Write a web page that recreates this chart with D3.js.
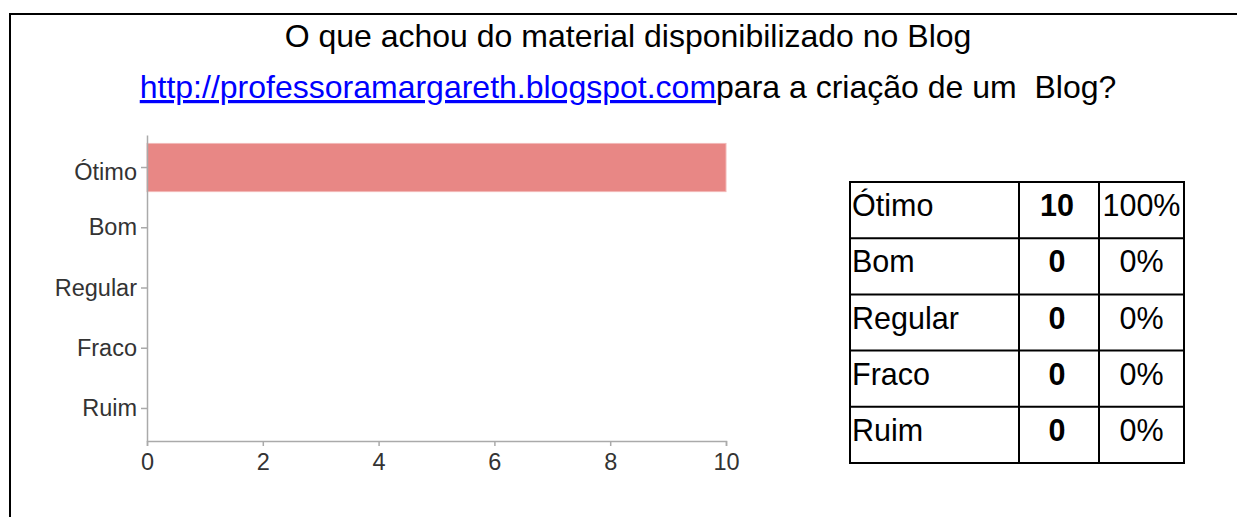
<!DOCTYPE html>
<html>
<head>
<meta charset="utf-8">
<script src="https://cdn.jsdelivr.net/npm/d3@7"></script>
<style>
  html, body { margin: 0; padding: 0; background: #fff; }
  svg { display: block; font-family: "Liberation Sans", Arial, Helvetica, sans-serif; }
</style>
</head>
<body>
<svg id="chart" width="1237" height="517"></svg>
<script>
// categories and values
var categories = ["Ótimo", "Bom", "Regular", "Fraco", "Ruim"];
var counts = [10, 0, 0, 0, 0];
var percents = ["100%", "0%", "0%", "0%", "0%"];
var xTicks = [0, 2, 4, 6, 8, 10];

var titleLine1 = "O que achou do material disponibilizado no Blog";
var titleLink = "http://professoramargareth.blogspot.com";
var titleRest = "para a criação de um  Blog?";

var svg = d3.select("#chart");

// frame: top and left edge only, the rest runs off the page
svg.append("line")
    .attr("x1", 10).attr("y1", 14).attr("x2", 1237).attr("y2", 14)
    .style("stroke", "#000").style("stroke-width", 2);
svg.append("line")
    .attr("x1", 10).attr("y1", 13).attr("x2", 10).attr("y2", 517)
    .style("stroke", "#000").style("stroke-width", 2);

// title, two lines
svg.append("text")
    .attr("x", 628).attr("y", 47)
    .attr("text-anchor", "middle")
    .style("font-size", "32px")
    .style("fill", "#000")
    .text(titleLine1);

var line2 = svg.append("text")
    .attr("x", 628).attr("y", 98)
    .attr("text-anchor", "middle")
    .style("font-size", "32px")
    .style("white-space", "pre");
line2.append("tspan")
    .style("fill", "#0000ff")
    .style("text-decoration", "underline")
    .text(titleLink);
line2.append("tspan")
    .style("fill", "#000")
    .text(titleRest);

// bar chart
var x = d3.scaleLinear().domain([0, 10]).range([147, 726]);
var y = d3.scaleBand().domain(categories).range([135, 441])
    .paddingInner(0.2).paddingOuter(0.14);

var plot = svg.append("g");

plot.selectAll("rect.bar")
    .data(categories)
    .enter().append("rect")
    .attr("class", "bar")
    .attr("x", x(0))
    .attr("y", function (d) { return y(d); })
    .attr("width", function (d, i) { return x(counts[i]) - x(0); })
    .attr("height", y.bandwidth())
    .style("fill", "#e88785")
    .style("stroke", "#f2b8b7")
    .style("stroke-width", 1);

var xAxis = plot.append("g")
    .attr("transform", "translate(0,441)")
    .call(d3.axisBottom(x).tickValues(xTicks).tickSize(5).tickPadding(7).tickSizeOuter(5));

var yAxis = plot.append("g")
    .attr("transform", "translate(147,0)")
    .call(d3.axisLeft(y).tickSize(6).tickPadding(4).tickSizeOuter(0));

[xAxis, yAxis].forEach(function (ax) {
    ax.selectAll("path.domain").style("stroke", "#aaa").style("stroke-width", 1.5);
    ax.selectAll(".tick line").style("stroke", "#aaa").style("stroke-width", 1.5);
    ax.selectAll(".tick text")
        .style("fill", "#333")
        .style("font-size", "23.5px")
        .style("font-family", "\"Liberation Sans\", Arial, sans-serif");
});

// labels with an accented capital sit a little lower, their box is taller
yAxis.selectAll(".tick text")
    .attr("dy", function (d) { return /^[ÁÉÍÓÚÂÊÔ]/.test(d) ? "0.55em" : "0.32em"; });

// table on the right
var rows = d3.scaleBand().domain(categories).range([182, 463]);
var cols = [850, 1019, 1099, 1184];

var table = svg.append("g");

rows.domain().concat([null]).forEach(function (d) {
    var yy = d === null ? rows.range()[1] : rows(d);
    table.append("line")
        .attr("x1", cols[0] - 1).attr("x2", cols[3] + 1)
        .attr("y1", yy).attr("y2", yy)
        .style("stroke", "#000").style("stroke-width", 2);
});
cols.forEach(function (cx) {
    table.append("line")
        .attr("x1", cx).attr("x2", cx)
        .attr("y1", rows.range()[0]).attr("y2", rows.range()[1])
        .style("stroke", "#000").style("stroke-width", 2);
});

var cells = table.selectAll("g.row")
    .data(categories)
    .enter().append("g")
    .attr("class", "row")
    .attr("transform", function (d) { return "translate(0," + (rows(d) + rows.bandwidth() / 2 + 6) + ")"; });

cells.append("text")
    .attr("x", cols[0] + 2)
    .style("font-size", "30.5px")
    .text(function (d) { return d; });

cells.append("text")
    .attr("x", (cols[1] + cols[2]) / 2 - 2)
    .attr("text-anchor", "middle")
    .style("font-size", "30.5px")
    .style("font-weight", "bold")
    .text(function (d, i) { return counts[i]; });

cells.append("text")
    .attr("x", (cols[2] + cols[3]) / 2)
    .attr("text-anchor", "middle")
    .style("font-size", "30.5px")
    .text(function (d, i) { return percents[i]; });
</script>
</body>
</html>
